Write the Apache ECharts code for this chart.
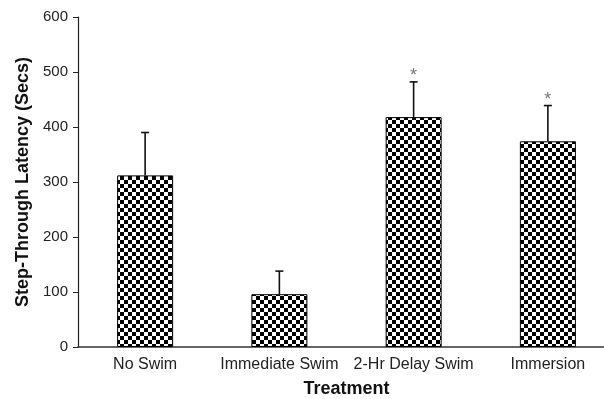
<!DOCTYPE html>
<html>
<head>
<meta charset="utf-8">
<script src="https://cdn.jsdelivr.net/npm/echarts@6/dist/echarts.min.js"></script>
<style>
  html, body { margin: 0; padding: 0; background: #fff; }
  #chart { width: 604px; height: 399px; }
</style>
</head>
<body>
<div id="chart"></div>
<script>
// data
const categories = ['No Swim', 'Immediate Swim', '2-Hr Delay Swim', 'Immersion']
const latency = [312, 96, 418, 374]
const errorTop = [390, 138, 482, 439]
const marks = ['', '', '*', '*']
const yTicks = [0, 100, 200, 300, 400, 500, 600]

// checkerboard fill
function checker() {
  let c = document.createElement('canvas')
  c.width = 8
  c.height = 8
  let ctx = c.getContext('2d')
  ctx.fillStyle = '#fff'
  ctx.fillRect(0, 0, 8, 8)
  ctx.fillStyle = '#000'
  ctx.fillRect(0, 0, 4, 4)
  ctx.fillRect(4, 4, 4, 4)
  return c
}

let myChart = echarts.init(document.getElementById('chart'))
let option = {
  animation: false,
  grid: { left: 78, top: 17, width: 537, bottom: 52, containLabel: false, outerBoundsMode: 'none' },
  xAxis: {
    type: 'category',
    data: categories,
    name: 'Treatment',
    nameLocation: 'middle',
    nameGap: 33,
    nameTextStyle: { fontFamily: 'Liberation Sans', fontWeight: 'bold', fontSize: 18, color: '#111' },
    axisLine: { lineStyle: { color: '#333', width: 1.5 } },
    axisTick: { show: false },
    axisLabel: { interval: 0, fontFamily: 'Liberation Sans', fontSize: 16, color: '#222', margin: 10 }
  },
  yAxis: {
    type: 'value',
    min: yTicks[0],
    max: yTicks[yTicks.length - 1],
    interval: 100,
    name: 'Step-Through Latency (Secs)',
    nameLocation: 'middle',
    nameGap: 45,
    nameTextStyle: { fontFamily: 'Liberation Sans', fontWeight: 'bold', fontSize: 18, color: '#111' },
    axisLine: { show: true, lineStyle: { color: '#222', width: 1.2 } },
    axisTick: { show: true, length: 5, lineStyle: { color: '#222' } },
    axisLabel: { fontFamily: 'Liberation Sans', fontSize: 15, color: '#222', margin: 10 },
    splitLine: { show: false }
  },
  series: [
    {
      type: 'bar',
      data: latency,
      barWidth: 56,
      itemStyle: {
        color: { image: checker(), repeat: 'repeat' },
        borderColor: '#000',
        borderWidth: 1
      }
    },
    {
      type: 'custom',
      z: 5,
      data: errorTop.map((e, i) => [i, latency[i], e]),
      renderItem: function (params, api) {
        let base = api.coord([api.value(0), api.value(1)])
        let top = api.coord([api.value(0), api.value(2)])
        let children = [
          { type: 'line', shape: { x1: base[0], y1: base[1], x2: top[0], y2: top[1] }, style: { stroke: '#111', lineWidth: 1.6 } },
          { type: 'line', shape: { x1: top[0] - 4, y1: top[1], x2: top[0] + 4, y2: top[1] }, style: { stroke: '#111', lineWidth: 1.6 } }
        ]
        let m = marks[params.dataIndex]
        if (m) {
          children.push({
            type: 'text',
            style: { text: m, x: top[0], y: top[1] - 6, textAlign: 'center', textVerticalAlign: 'middle', fontSize: 18, fontFamily: 'Liberation Sans', fill: '#777' }
          })
        }
        return { type: 'group', children: children }
      }
    }
  ]
}
myChart.setOption(option)
window.addEventListener('resize', function () {
  myChart.resize()
})
</script>
</body>
</html>
